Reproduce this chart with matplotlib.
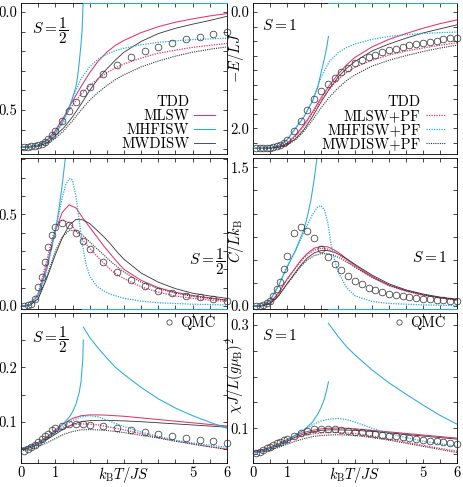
import numpy as np
import matplotlib
matplotlib.use("Agg")
import matplotlib.pyplot as plt
from matplotlib.lines import Line2D
from matplotlib.ticker import FixedLocator, FuncFormatter

plt.rcParams["font.family"] = "serif"
plt.rcParams["font.serif"] = ["cmr10"]
plt.rcParams["mathtext.fontset"] = "cm"
plt.rcParams["axes.unicode_minus"] = False
plt.rcParams["axes.linewidth"] = 0.6

PINK = "#e5336d"
BLUE = "#29a9df"
DARK = "#333333"
DOT = (0, (1, 1))
OFF_SCALE = -1.0   # MHFISW has no solution above T_c, drawn on the frame

# temperature grids
T_E = [0, 0.25, 0.5, 0.75, 1.0, 1.25, 1.5, 1.75, 2.0, 2.25, 2.5, 2.75, 3.0, 3.5, 4.0, 4.5, 5.0, 5.5, 6.0]
T_C = [0, 0.25, 0.5, 0.75, 1.0, 1.2, 1.4, 1.6, 1.8, 2.0, 2.2, 2.4, 2.6, 2.8, 3.0, 3.5, 4.0, 4.5, 5.0, 5.5, 6.0]
T_qmc_half = [0.1, 0.2, 0.3, 0.4, 0.5, 0.6, 0.7, 0.8, 0.9, 1.0, 1.2, 1.4, 1.6, 1.8, 2.0,
              2.4, 2.8, 3.2, 3.6, 4.0, 4.4, 4.8, 5.2, 5.6, 6.0]
T_qmc_one = [0.1, 0.2, 0.3, 0.4, 0.5, 0.6, 0.7, 0.8, 0.9, 1.0, 1.2, 1.4, 1.6, 1.8, 2.0,
             2.2, 2.4, 2.6, 2.8, 3.0, 3.2, 3.4, 3.6, 3.8, 4.0, 4.2, 4.4, 4.6, 4.8, 5.0,
             5.2, 5.4, 5.6, 5.8, 6.0]

# ---- energy, S = 1/2
e_half_mlsw = [0.688, 0.688, 0.68, 0.655, 0.605, 0.535, 0.455, 0.38, 0.31, 0.25, 0.205, 0.17, 0.145, 0.105, 0.075, 0.052, 0.035, 0.02, 0.008]
e_half_mlsw_pf = [0.688, 0.688, 0.68, 0.655, 0.61, 0.54, 0.475, 0.42, 0.375, 0.34, 0.31, 0.285, 0.265, 0.235, 0.21, 0.195, 0.18, 0.17, 0.16]
e_half_mwd = [0.688, 0.688, 0.684, 0.668, 0.63, 0.59, 0.535, 0.47, 0.40, 0.34, 0.29, 0.245, 0.205, 0.15, 0.11, 0.083, 0.062, 0.043, 0.022]
e_half_mwd_pf = [0.688, 0.688, 0.685, 0.672, 0.645, 0.605, 0.555, 0.5, 0.45, 0.41, 0.375, 0.345, 0.32, 0.28, 0.25, 0.225, 0.205, 0.19, 0.178]
e_half_mhf_pf = [0.688, 0.688, 0.68, 0.655, 0.62, 0.56, 0.44, 0.34, 0.28, 0.24, 0.215, 0.197, 0.185, 0.167, 0.155, 0.147, 0.141, 0.137, 0.134]
e_half_mhf_T = [0, 0.25, 0.5, 0.75, 1.0, 1.2, 1.4, 1.5, 1.6, 1.65, 1.7, 1.75, 1.78, 1.81]
e_half_mhf = [0.688, 0.688, 0.68, 0.655, 0.62, 0.565, 0.49, 0.44, 0.38, 0.33, 0.25, 0.16, 0.09, -0.05]
e_half_mhf_off_T = [1.815, 6.0]
qmc_e_half = [0.687, 0.687, 0.686, 0.684, 0.68, 0.673, 0.662, 0.65, 0.628, 0.605, 0.558, 0.503, 0.457, 0.415, 0.381,
              0.318, 0.268, 0.231, 0.199, 0.177, 0.156, 0.139, 0.126, 0.114, 0.104]

# ---- energy, S = 1
e_one_mlsw = [2.345, 2.345, 2.34, 2.32, 2.26, 2.12, 1.94, 1.72, 1.48, 1.26, 1.07, 0.91, 0.78, 0.6, 0.47, 0.37, 0.28, 0.2, 0.135]
e_one_mlsw_pf = [2.345, 2.345, 2.34, 2.32, 2.27, 2.14, 1.96, 1.74, 1.52, 1.32, 1.16, 1.04, 0.95, 0.83, 0.74, 0.67, 0.62, 0.57, 0.53]
e_one_mwd = [2.345, 2.345, 2.34, 2.325, 2.28, 2.18, 2.02, 1.8, 1.55, 1.32, 1.12, 0.97, 0.85, 0.67, 0.55, 0.45, 0.36, 0.29, 0.22]
e_one_mwd_pf = [2.345, 2.345, 2.342, 2.33, 2.29, 2.2, 2.05, 1.86, 1.65, 1.46, 1.31, 1.18, 1.08, 0.93, 0.83, 0.75, 0.68, 0.62, 0.57]
e_one_mhf_pf = [2.345, 2.345, 2.335, 2.3, 2.2, 2.0, 1.8, 1.53, 1.12, 0.85, 0.7, 0.61, 0.55, 0.47, 0.42, 0.39, 0.37, 0.355, 0.345]
e_one_mhf_T = [0, 0.25, 0.5, 0.75, 1.0, 1.25, 1.5, 1.75, 1.9, 2.0, 2.1, 2.17, 2.22]
e_one_mhf = [2.345, 2.345, 2.335, 2.3, 2.2, 2.0, 1.8, 1.53, 1.3, 1.05, 0.8, 0.6, 0.42]
e_one_mhf_off_T = [2.22, 6.0]
qmc_e_one = [2.345, 2.345, 2.343, 2.34, 2.335, 2.325, 2.305, 2.28, 2.25, 2.2,
             2.05, 1.87, 1.68, 1.5, 1.355, 1.235, 1.13, 1.035, 0.955, 0.885, 0.83, 0.78, 0.735,
             0.695, 0.66, 0.63, 0.6, 0.575, 0.55, 0.53, 0.51, 0.49, 0.472, 0.455, 0.44]

# ---- specific heat, S = 1/2
c_half_mlsw = [0, 0.005, 0.06, 0.22, 0.41, 0.51, 0.552, 0.535, 0.48, 0.43, 0.38, 0.33, 0.285, 0.24, 0.2, 0.14, 0.1, 0.075, 0.058, 0.045, 0.032]
c_half_mlsw_pf = [0, 0.005, 0.07, 0.25, 0.43, 0.47, 0.455, 0.41, 0.36, 0.315, 0.275, 0.235, 0.2, 0.17, 0.15, 0.105, 0.075, 0.055, 0.042, 0.032, 0.025]
c_half_mwd = [0, 0.003, 0.04, 0.15, 0.28, 0.37, 0.44, 0.472, 0.47, 0.45, 0.415, 0.38, 0.34, 0.295, 0.255, 0.18, 0.13, 0.095, 0.07, 0.055, 0.042]
c_half_mwd_pf = [0, 0.003, 0.04, 0.16, 0.3, 0.375, 0.413, 0.41, 0.385, 0.35, 0.315, 0.28, 0.245, 0.215, 0.185, 0.13, 0.095, 0.07, 0.053, 0.041, 0.032]
c_half_mhf_pf_T = [0, 0.25, 0.5, 0.75, 1.0, 1.1, 1.2, 1.3, 1.4, 1.45, 1.5, 1.6, 1.7, 1.8, 1.9, 2.0, 2.2, 2.4, 2.6, 3.0, 3.5, 4.0, 5.0, 6.0]
c_half_mhf_pf = [0, 0.005, 0.06, 0.2, 0.41, 0.5, 0.59, 0.66, 0.693, 0.695, 0.685, 0.6, 0.46, 0.32, 0.225, 0.165, 0.11, 0.083, 0.065, 0.042, 0.027, 0.018, 0.01, 0.006]
c_half_mhf_T = [0, 0.25, 0.5, 0.75, 1.0, 1.1, 1.2, 1.3, 1.35]
c_half_mhf = [0, 0.005, 0.06, 0.2, 0.41, 0.52, 0.66, 0.82, 0.92]
c_half_mhf_off_T = [1.77, 6.0]
qmc_c_half = [0.0, 0.005, 0.012, 0.04, 0.103, 0.158, 0.24, 0.322, 0.386, 0.432, 0.454, 0.441, 0.399, 0.353, 0.311,
              0.24, 0.185, 0.143, 0.108, 0.084, 0.07, 0.055, 0.048, 0.037, 0.027]

# ---- specific heat, S = 1
c_one_mlsw = [0, 0.002, 0.035, 0.14, 0.29, 0.39, 0.49, 0.57, 0.625, 0.645, 0.64, 0.605, 0.555, 0.495, 0.44, 0.32, 0.225, 0.165, 0.12, 0.09, 0.065]
c_one_mlsw_pf = [0, 0.002, 0.035, 0.14, 0.285, 0.385, 0.48, 0.555, 0.605, 0.625, 0.615, 0.585, 0.535, 0.48, 0.425, 0.31, 0.22, 0.16, 0.117, 0.087, 0.063]
c_one_mwd = [0, 0.001, 0.025, 0.11, 0.24, 0.34, 0.44, 0.52, 0.575, 0.6, 0.6, 0.58, 0.545, 0.5, 0.45, 0.335, 0.24, 0.175, 0.13, 0.097, 0.073]
c_one_mwd_pf = [0, 0.001, 0.025, 0.11, 0.235, 0.33, 0.425, 0.5, 0.545, 0.565, 0.565, 0.545, 0.51, 0.465, 0.42, 0.31, 0.225, 0.165, 0.122, 0.09, 0.068]
c_one_mhf_pf_T = [0, 0.25, 0.5, 0.75, 1.0, 1.25, 1.5, 1.75, 1.9, 2.0, 2.1, 2.2, 2.3, 2.4, 2.5, 2.75, 3.0, 3.5, 4.0, 5.0, 6.0]
c_one_mhf_pf = [0, 0.005, 0.06, 0.22, 0.42, 0.6, 0.8, 0.99, 1.07, 1.085, 1.04, 0.9, 0.66, 0.5, 0.37, 0.2, 0.11, 0.05, 0.028, 0.012, 0.007]
c_one_mhf_T = [0, 0.25, 0.5, 0.75, 1.0, 1.25, 1.5, 1.6, 1.7, 1.8, 1.9, 1.95]
c_one_mhf = [0, 0.005, 0.06, 0.22, 0.42, 0.6, 0.83, 0.97, 1.14, 1.37, 1.65, 1.82]
c_one_mhf_off_T = [2.22, 6.0]
qmc_c_one = [0.0, 0.003, 0.015, 0.035, 0.058, 0.112, 0.185, 0.257, 0.4, 0.536,
             0.79, 0.855, 0.81, 0.73, 0.616, 0.53, 0.457, 0.39, 0.33, 0.275, 0.235, 0.2, 0.172,
             0.15, 0.132, 0.117, 0.105, 0.095, 0.087, 0.08, 0.073, 0.067, 0.061, 0.057, 0.053]

# ---- susceptibility, S = 1/2
x_half_mlsw = [0.051, 0.055, 0.062, 0.072, 0.085, 0.097, 0.106, 0.111, 0.1125, 0.1125, 0.112, 0.111, 0.11, 0.107, 0.104, 0.101, 0.098, 0.095, 0.092]
x_half_mlsw_pf = [0.051, 0.055, 0.061, 0.07, 0.08, 0.089, 0.094, 0.096, 0.0955, 0.094, 0.091, 0.088, 0.085, 0.078, 0.071, 0.065, 0.059, 0.054, 0.05]
x_half_mwd = [0.048, 0.052, 0.058, 0.067, 0.077, 0.087, 0.095, 0.1, 0.102, 0.1025, 0.1025, 0.102, 0.1015, 0.1, 0.098, 0.096, 0.094, 0.092, 0.09]
x_half_mwd_pf = [0.046, 0.049, 0.054, 0.061, 0.069, 0.077, 0.082, 0.085, 0.0855, 0.085, 0.084, 0.082, 0.08, 0.075, 0.07, 0.064, 0.059, 0.054, 0.049]
x_half_mhf_pf = [0.05, 0.054, 0.06, 0.069, 0.08, 0.092, 0.102, 0.109, 0.111, 0.109, 0.103, 0.097, 0.091, 0.081, 0.073, 0.066, 0.061, 0.057, 0.053]
x_half_mhf_lo_T = [0, 0.25, 0.5, 0.75, 1.0, 1.2, 1.4, 1.5, 1.6, 1.7, 1.75, 1.8, 1.815]
x_half_mhf_lo = [0.05, 0.054, 0.06, 0.069, 0.082, 0.094, 0.108, 0.118, 0.132, 0.155, 0.175, 0.215, 0.25]
x_half_mhf_hi_T = [1.815, 2.0, 2.25, 2.5, 2.75, 3.0, 3.5, 4.0, 4.5, 5.0, 5.5, 6.0]
x_half_mhf_hi = [0.274, 0.255, 0.235, 0.217, 0.2, 0.187, 0.163, 0.142, 0.125, 0.111, 0.099, 0.088]
qmc_x_half = [0.047, 0.05, 0.054, 0.058, 0.063, 0.068, 0.073, 0.078, 0.084, 0.088, 0.093, 0.0955, 0.0955, 0.095, 0.094,
              0.092, 0.089, 0.085, 0.081, 0.077, 0.0737, 0.07, 0.0665, 0.0645, 0.0614]

# ---- susceptibility, S = 1
x_one_mlsw = [0.055, 0.058, 0.063, 0.07, 0.078, 0.086, 0.092, 0.096, 0.099, 0.1, 0.1005, 0.1, 0.099, 0.096, 0.093, 0.09, 0.087, 0.084, 0.081]
x_one_mlsw_pf = [0.055, 0.057, 0.062, 0.068, 0.075, 0.081, 0.086, 0.089, 0.091, 0.092, 0.092, 0.091, 0.09, 0.085, 0.079, 0.073, 0.067, 0.061, 0.056]
x_one_mwd = [0.053, 0.056, 0.061, 0.067, 0.075, 0.083, 0.089, 0.093, 0.096, 0.097, 0.097, 0.0965, 0.096, 0.094, 0.091, 0.088, 0.085, 0.082, 0.079]
x_one_mwd_pf = [0.052, 0.054, 0.058, 0.063, 0.069, 0.075, 0.08, 0.084, 0.086, 0.087, 0.0875, 0.087, 0.086, 0.082, 0.077, 0.071, 0.065, 0.059, 0.053]
x_one_mhf_pf = [0.053, 0.056, 0.061, 0.068, 0.077, 0.087, 0.096, 0.107, 0.114, 0.118, 0.119, 0.117, 0.112, 0.1, 0.09, 0.082, 0.075, 0.07, 0.065]
x_one_mhf_lo_T = [0, 0.25, 0.5, 0.75, 1.0, 1.25, 1.5, 1.75, 1.9, 2.0, 2.1, 2.17, 2.22]
x_one_mhf_lo = [0.053, 0.056, 0.061, 0.068, 0.077, 0.087, 0.097, 0.112, 0.127, 0.14, 0.157, 0.175, 0.19]
x_one_mhf_hi_T = [2.22, 2.5, 2.75, 3.0, 3.5, 4.0, 4.5, 5.0, 5.5, 6.0]
x_one_mhf_hi = [0.303, 0.278, 0.258, 0.242, 0.213, 0.188, 0.166, 0.145, 0.125, 0.108]
qmc_x_one = [0.053, 0.055, 0.058, 0.061, 0.064, 0.067, 0.071, 0.074, 0.077, 0.079,
             0.085, 0.09, 0.0955, 0.098, 0.0994, 0.0994, 0.098, 0.0966, 0.095, 0.0935, 0.092, 0.0905, 0.089,
             0.0874, 0.0858, 0.0842, 0.0826, 0.081, 0.0794, 0.0778, 0.0762, 0.0746, 0.073, 0.0715, 0.070]


def only_labels(keep, fmt):
    return FuncFormatter(lambda v, p: fmt.format(v) if any(abs(v - k) < 1e-9 for k in keep) else "")


def draw(ax, T, mlsw, mlsw_pf, mwd, mwd_pf, pf_T, mhf_pf, mhf_segments, qT, q):
    ax.plot(T, mlsw, color=PINK, lw=0.75)
    ax.plot(T, mwd, color=DARK, lw=0.6)
    ax.plot(T, mlsw_pf, color=PINK, lw=0.9, ls=DOT)
    ax.plot(T, mwd_pf, color=DARK, lw=0.8, ls=DOT)
    ax.plot(pf_T, mhf_pf, color=BLUE, lw=0.9, ls=DOT)
    for sT, s in mhf_segments:
        ax.plot(sT, s, color=BLUE, lw=0.75)
    ax.plot(qT, q, "o", mfc="none", mec="#3a3a3a", ms=4.8, mew=0.55, clip_on=False, zorder=4)


def off_scale(ax, offT):
    lo, hi = sorted(ax.get_ylim())
    ax.plot(offT, np.clip([OFF_SCALE] * len(offT), lo, hi), color=BLUE, lw=0.8,
            clip_on=False, zorder=3)


fig = plt.figure(figsize=(4.63, 4.87), dpi=100)
xl, xr, wl, wr = 21 / 463, 253 / 463, 206 / 463, 204 / 463
rows = [(1 - 154 / 487, 151 / 487), (1 - 309 / 487, 151 / 487), (1 - 463 / 487, 150 / 487)]

axes = {}
for r, (b, h) in enumerate(rows):
    axes[(r, 0)] = fig.add_axes([xl, b, wl, h])
    axes[(r, 1)] = fig.add_axes([xr, b, wr, h])

# energy
ax = axes[(0, 0)]
draw(ax, T_E, e_half_mlsw, e_half_mlsw_pf, e_half_mwd, e_half_mwd_pf, T_E, e_half_mhf_pf,
     [(e_half_mhf_T, e_half_mhf)], T_qmc_half, qmc_e_half)
ax.set_ylim(0.7245, -0.046)
ax.yaxis.set_major_locator(FixedLocator(np.arange(0, 0.71, 0.1)))
ax.yaxis.set_major_formatter(only_labels([0.0, 0.5], "{:.1f}"))
off_scale(ax, e_half_mhf_off_T)

ax = axes[(0, 1)]
draw(ax, T_E, e_one_mlsw, e_one_mlsw_pf, e_one_mwd, e_one_mwd_pf, T_E, e_one_mhf_pf,
     [(e_one_mhf_T, e_one_mhf)], T_qmc_one, qmc_e_one)
ax.set_ylim(2.442, -0.155)
ax.yaxis.set_major_locator(FixedLocator(np.arange(0, 2.3, 0.25)))
ax.yaxis.set_major_formatter(only_labels([0.0, 2.0], "{:.1f}"))
off_scale(ax, e_one_mhf_off_T)

# specific heat
ax = axes[(1, 0)]
draw(ax, T_C, c_half_mlsw, c_half_mlsw_pf, c_half_mwd, c_half_mwd_pf, c_half_mhf_pf_T, c_half_mhf_pf,
     [(c_half_mhf_T, c_half_mhf)], T_qmc_half, qmc_c_half)
ax.set_ylim(-0.016, 0.807)
ax.yaxis.set_major_locator(FixedLocator(np.arange(0, 0.81, 0.1)))
ax.yaxis.set_major_formatter(only_labels([0.0, 0.5], "{:.1f}"))
off_scale(ax, c_half_mhf_off_T)

ax = axes[(1, 1)]
draw(ax, T_C, c_one_mlsw, c_one_mlsw_pf, c_one_mwd, c_one_mwd_pf, c_one_mhf_pf_T, c_one_mhf_pf,
     [(c_one_mhf_T, c_one_mhf)], T_qmc_one, qmc_c_one)
ax.set_ylim(-0.032, 1.6)
ax.yaxis.set_major_locator(FixedLocator(np.arange(0, 1.51, 0.25)))
ax.yaxis.set_major_formatter(only_labels([0.0, 1.5], "{:.1f}"))
off_scale(ax, c_one_mhf_off_T)

# susceptibility
ax = axes[(2, 0)]
draw(ax, T_E, x_half_mlsw, x_half_mlsw_pf, x_half_mwd, x_half_mwd_pf, T_E, x_half_mhf_pf,
     [(x_half_mhf_lo_T, x_half_mhf_lo), (x_half_mhf_hi_T, x_half_mhf_hi)], T_qmc_half, qmc_x_half)
ax.set_ylim(0.0241, 0.2998)
ax.yaxis.set_major_locator(FixedLocator(np.arange(0.05, 0.29, 0.05)))
ax.yaxis.set_major_formatter(only_labels([0.1, 0.2], "{:.1f}"))

ax = axes[(2, 1)]
draw(ax, T_E, x_one_mlsw, x_one_mlsw_pf, x_one_mwd, x_one_mwd_pf, T_E, x_one_mhf_pf,
     [(x_one_mhf_lo_T, x_one_mhf_lo), (x_one_mhf_hi_T, x_one_mhf_hi)], T_qmc_one, qmc_x_one)
ax.set_ylim(0.0328, 0.3232)
ax.yaxis.set_major_locator(FixedLocator(np.arange(0.05, 0.31, 0.05)))
ax.yaxis.set_major_formatter(only_labels([0.1, 0.3], "{:.1f}"))

for (r, c), ax in axes.items():
    ax.set_xlim(0, 6)
    ax.xaxis.set_major_locator(FixedLocator(np.arange(0, 6.01, 0.5)))
    ax.xaxis.set_major_formatter(only_labels([0, 1, 5, 6], "{:.0f}"))
    ax.tick_params(direction="in", top=True, right=True, length=2.8, width=0.5,
                   labelsize=10.5, pad=2.5)
    if r < 2:
        ax.tick_params(labelbottom=False)
    else:
        ax.text(0.5, -0.08, r"$k_{\rm B}T/JS$", transform=ax.transAxes,
                ha="center", va="center", fontsize=10.5)

# ylabels on the right column
for r, lab, yc in [(0, r"$-E/LJ$", 0.64), (1, r"$C/Lk_{\rm B}$", 0.45),
                   (2, r"$\chi J/L(g\mu_{\rm B})^2$", 0.585)]:
    ax = axes[(r, 1)]
    ax.set_ylabel(lab, fontsize=10.5)
    ax.yaxis.set_label_coords(-0.035, yc)

# spin labels
half = r"$S=\dfrac{1}{2}$"
one = r"$S=1$"
axes[(0, 0)].text(0.053, 0.82, half, transform=axes[(0, 0)].transAxes, va="center", fontsize=11)
axes[(1, 0)].text(0.99, 0.315, half, transform=axes[(1, 0)].transAxes, va="center", ha="right", fontsize=11)
axes[(2, 0)].text(0.053, 0.82, half, transform=axes[(2, 0)].transAxes, va="center", fontsize=11)
axes[(0, 1)].text(0.044, 0.854, one, transform=axes[(0, 1)].transAxes, va="center", fontsize=11)
axes[(1, 1)].text(0.951, 0.338, one, transform=axes[(1, 1)].transAxes, va="center", ha="right", fontsize=11)
axes[(2, 1)].text(0.044, 0.847, one, transform=axes[(2, 1)].transAxes, va="center", fontsize=11)

# legends
blank = Line2D([], [], color="none")
h_solid = [blank, Line2D([], [], color=PINK, lw=0.75), Line2D([], [], color=BLUE, lw=0.75),
           Line2D([], [], color=DARK, lw=0.6)]
h_dot = [blank, Line2D([], [], color=PINK, lw=0.9, ls=DOT), Line2D([], [], color=BLUE, lw=0.9, ls=DOT),
         Line2D([], [], color=DARK, lw=0.8, ls=DOT)]
axes[(0, 0)].legend(h_solid, ["TDD", "MLSW", "MHFISW", "MWDISW"], loc="lower right",
                    bbox_to_anchor=(0.955, 0.0), frameon=False, markerfirst=False,
                    fontsize=10.5, handlelength=1.4, handletextpad=0.35, labelspacing=0.02,
                    borderpad=0.2, borderaxespad=0.0)
axes[(0, 1)].legend(h_dot, ["TDD", "MLSW+PF", "MHFISW+PF", "MWDISW+PF"], loc="lower right",
                    bbox_to_anchor=(0.96, 0.0), frameon=False, markerfirst=False,
                    fontsize=10.5, handlelength=1.4, handletextpad=0.35, labelspacing=0.02,
                    borderpad=0.2, borderaxespad=0.0)
h_qmc = [Line2D([], [], ls="none", marker="o", mfc="none", mec="#3a3a3a", ms=3.8, mew=0.55)]
for c in (0, 1):
    axes[(2, c)].legend(h_qmc, ["QMC"], loc="upper right", bbox_to_anchor=(0.96, 1.0),
                        frameon=False, fontsize=10.5, handlelength=0.8, handletextpad=0.4,
                        borderpad=0.2, borderaxespad=0.0)

fig.savefig("out.png", dpi=100)
